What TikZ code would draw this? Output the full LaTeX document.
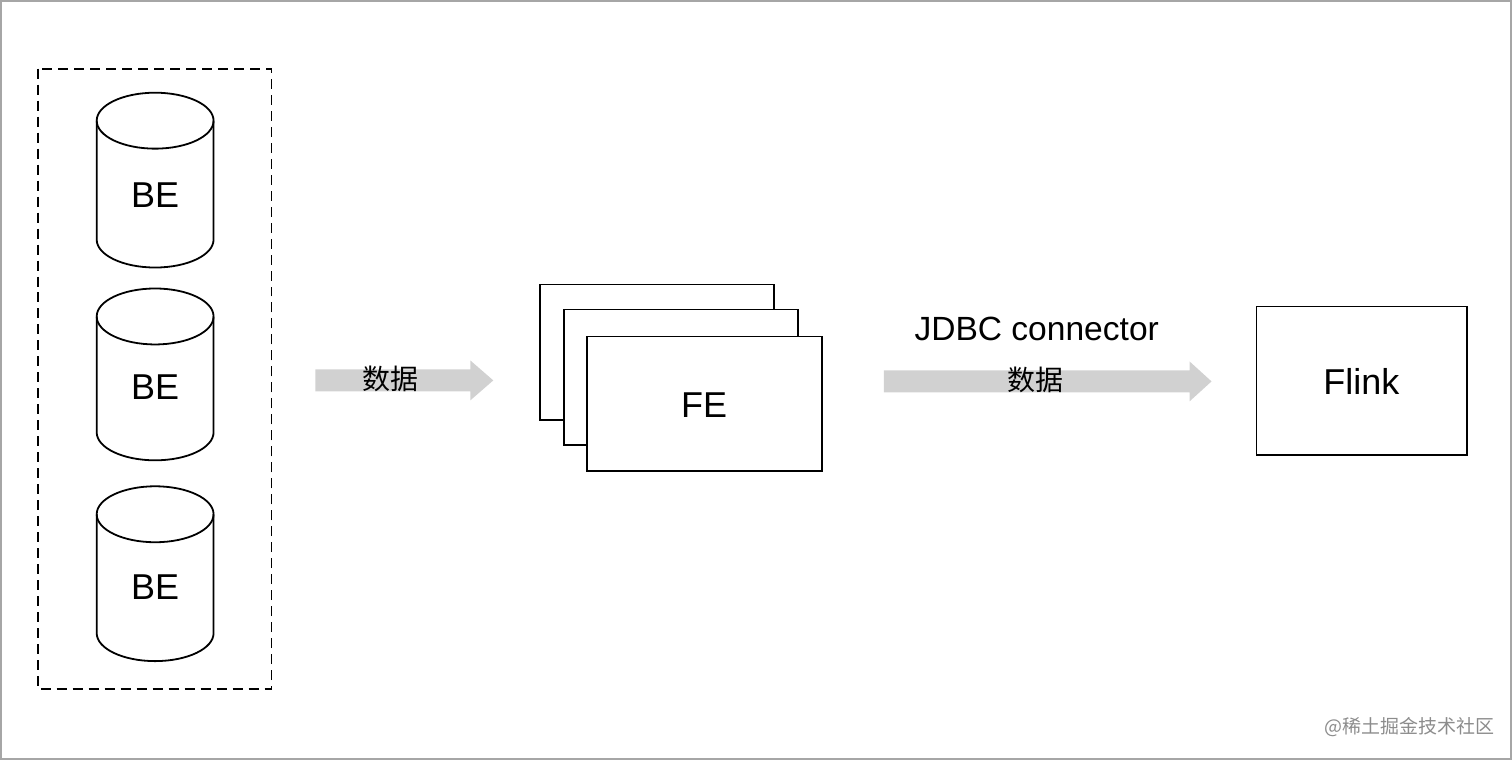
\documentclass[tikz,border=0pt]{standalone}
\usepackage{fontspec}
\setmainfont{Liberation Sans}
\newfontfamily\cjk{Noto Sans CJK SC}
\begin{document}
\begin{tikzpicture}[x=0.5pt,y=-0.5pt,
  cyl/.style={draw=black,line width=0.9pt,fill=white},
  box/.style={draw=black,line width=0.9pt,fill=white},
  fat/.style={fill=black!18,draw=none},
  lbl/.style={font=\fontsize{18}{22}\selectfont},
  cn/.style={font=\cjk\fontsize{14}{16}\selectfont}]
\draw[black!35,line width=0.8pt] (0,0) rectangle (1512,759);
\useasboundingbox (0,0) rectangle (1512,759);
\draw[dashed,line width=0.9pt,dash pattern=on 5pt off 3pt] (37,68) rectangle (271,689);
\foreach \t/\b/\n [count=\i] in {92/267/195,288/460/387,486/661/587}{
  \pgfmathsetmacro\tc{\t+28}\pgfmathsetmacro\bc{\b-28}
  \draw[cyl] (96,\tc) -- (96,\bc) arc[start angle=180,end angle=0,x radius=58.5,y radius=28] -- (213,\tc) arc[start angle=0,end angle=-180,x radius=58.5,y radius=28];
  \draw[line width=0.9pt] (96,\tc) arc[start angle=180,end angle=0,x radius=58.5,y radius=28];
  \node[lbl] (be\i) at (154.5,\n) {BE};
}
% arrow 1
\fill[fat] (315,369) -- (470,369) -- (470,360) -- (493,380) -- (470,400) -- (470,391) -- (315,391) -- cycle;
\node[cn] (d1) at (390,378) {数据};
% FE stack
\draw[box] (540,284) rectangle (774,420);
\draw[box] (564,309) rectangle (798,445);
\draw[box] (587,336) rectangle (822,471);
\node[lbl] (fe) at (704,405) {FE};
% arrow 2
\fill[fat] (884,370) -- (1190,370) -- (1190,361) -- (1212,381) -- (1190,401) -- (1190,392) -- (884,392) -- cycle;
\node[font=\fontsize{16.8}{20}\selectfont] (jd) at (1037,328) {JDBC connector};
\node[cn] (d2) at (1036,379) {数据};
% Flink
\draw[box] (1257,306) rectangle (1468,455);
\node[lbl] (fl) at (1362,381) {Flink};
\node[font=\cjk\fontsize{9.5}{11}\selectfont,text=black!45] (wm) at (1410,727) {@稀土掘金技术社区};
\end{tikzpicture}
\end{document}
